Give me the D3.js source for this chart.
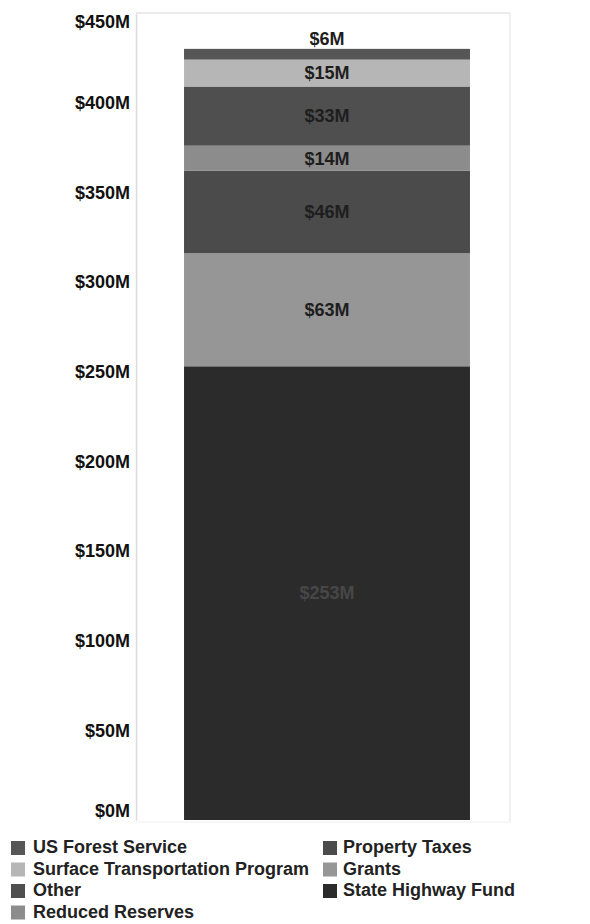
<!DOCTYPE html>
<html>
<head>
<meta charset="utf-8">
<script src="https://cdn.jsdelivr.net/npm/d3@7"></script>
<style>
  html, body { margin: 0; padding: 0; background: #fff; }
  svg { display: block; }
  text { font-family: "Liberation Sans", Arial, sans-serif; font-weight: bold; }
</style>
</head>
<body>
<svg id="chart" width="590" height="924"></svg>
<script>
// Data (stack order: bottom to top)
const categories = ["State Highway Fund", "Grants", "Property Taxes", "Reduced Reserves", "Other", "Surface Transportation Program", "US Forest Service"];
const values = [253, 63, 46, 14, 33, 15, 6];
const tickValues = [0, 50, 100, 150, 200, 250, 300, 350, 400, 450];
const legendCol1 = ["US Forest Service", "Surface Transportation Program", "Other", "Reduced Reserves"];
const legendCol2 = ["Property Taxes", "Grants", "State Highway Fund"];

// Styles
const colors = ["#2b2b2b", "#969696", "#4b4b4b", "#8c8c8c", "#4f4f4f", "#b6b6b6", "#565656"];
const color = d3.scaleOrdinal().domain(categories).range(colors);

const svg = d3.select("#chart");
const plot = { left: 136, right: 510, top: 13, bottom: 820 };

const y = d3.scaleLinear().domain([0, 450]).range([plot.bottom, plot.top]);
const x = d3.scaleBand().domain(["total"]).range([plot.left + 8, plot.right]).paddingInner(0).paddingOuter(0.14);

// plot frame (faint)
const frame = svg.append("g");
frame.append("line").attr("x1", plot.left).attr("x2", plot.right).attr("y1", plot.top).attr("y2", plot.top)
  .attr("stroke", "#e4e4e4").attr("stroke-width", 1.5);
frame.append("line").attr("x1", plot.right).attr("x2", plot.right).attr("y1", plot.top).attr("y2", plot.bottom + 2)
  .attr("stroke", "#ececec").attr("stroke-width", 1.5);
frame.append("line").attr("x1", plot.left).attr("x2", plot.right).attr("y1", plot.bottom + 2).attr("y2", plot.bottom + 2)
  .attr("stroke", "#eeeeee").attr("stroke-width", 1);

// Stack data
const row = { key: "total" };
categories.forEach((c, i) => row[c] = values[i]);
const stacked = d3.stack().keys(categories)([row]);

// Bars
const bw = x.bandwidth();
svg.append("g").selectAll("rect").data(stacked).join("rect")
  .attr("x", x("total"))
  .attr("width", bw)
  .attr("y", d => y(d[0][1]))
  .attr("height", d => y(d[0][0]) - y(d[0][1]))
  .attr("fill", d => color(d.key));

// Labels
svg.append("g").selectAll("text").data(stacked).join("text")
  .attr("x", x("total") + bw / 2)
  .attr("y", d => {
    const h = y(d[0][0]) - y(d[0][1]);
    if (h < 18) return y(d[0][1]) - 4;
    return (y(d[0][0]) + y(d[0][1])) / 2;
  })
  .attr("dy", d => (y(d[0][0]) - y(d[0][1])) < 18 ? "0" : "0.35em")
  .attr("text-anchor", "middle")
  .attr("font-size", 18)
  .attr("fill", d => d.key === "State Highway Fund" ? "#474747" : "#1e1e1e")
  .text(d => "$" + (d[0][1] - d[0][0]) + "M");

// Y axis
const axis = svg.append("g").attr("transform", `translate(${plot.left},0)`)
  .call(d3.axisLeft(y).tickValues(tickValues).tickSize(0).tickPadding(6).tickFormat(d => "$" + d + "M"));
axis.select(".domain").attr("stroke", "#dcdcdc").attr("stroke-width", 1.5);
axis.selectAll("text")
  .attr("font-size", 18)
  .attr("font-family", "'Liberation Sans', Arial, sans-serif")
  .attr("font-weight", "bold")
  .attr("fill", "#111")
  .attr("transform", d => d === 450 ? "translate(0,9)" : d === 0 ? "translate(0,-9)" : null);

// Legend
function legend(items, x0, tx) {
  const g = svg.append("g");
  const rows = g.selectAll("g").data(items).join("g")
    .attr("transform", (d, i) => `translate(0,${853 + i * 21.5})`);
  rows.append("rect").attr("x", x0).attr("y", -12).attr("width", 14).attr("height", 14)
    .attr("fill", d => color(d));
  rows.append("text").attr("x", tx).attr("y", 0).attr("font-size", 18).attr("fill", "#222")
    .text(d => d);
}
legend(legendCol1, 11, 33);
legend(legendCol2, 323, 343);
</script>
</body>
</html>
